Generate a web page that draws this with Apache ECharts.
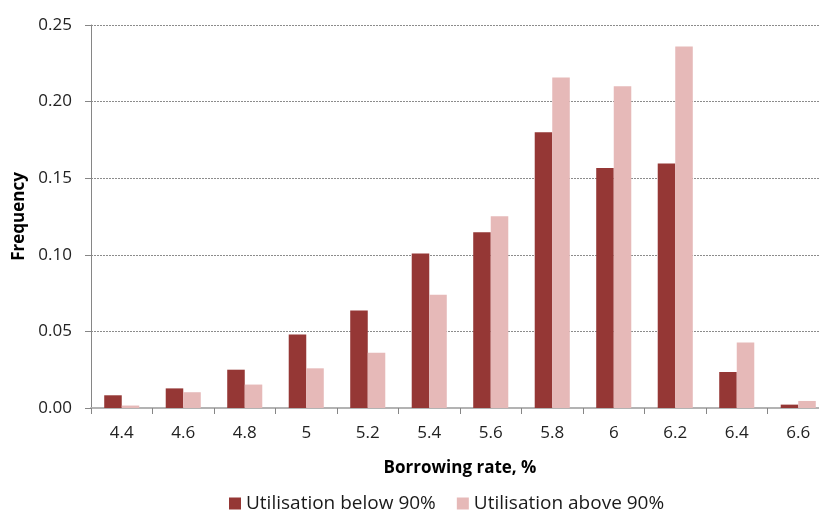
<!DOCTYPE html>
<html>
<head>
<meta charset="utf-8">
<script src="https://cdn.jsdelivr.net/npm/echarts@6/dist/echarts.min.js"></script>
<style>
  html, body { margin: 0; padding: 0; background: #fff; }
  #chart { width: 819px; height: 511px; }
</style>
</head>
<body>
<div id="chart"></div>
<script>
var rates = ['4.4', '4.6', '4.8', '5', '5.2', '5.4', '5.6', '5.8', '6', '6.2', '6.4', '6.6'];
var belowValues = [0.0083, 0.0128, 0.025, 0.048, 0.0637, 0.1009, 0.1148, 0.180, 0.1566, 0.1596, 0.0235, 0.0022];
var aboveValues = [0.0016, 0.0103, 0.0153, 0.0259, 0.0361, 0.074, 0.1251, 0.2157, 0.210, 0.236, 0.0427, 0.0046];
var seriesNames = ['Utilisation below 90%', 'Utilisation above 90%'];

// 初始化图表
var myChart = echarts.init(document.getElementById('chart'));
var font = 'Open Sans, Liberation Sans, sans-serif';

var option = {
    animation: false,
    textStyle: { fontFamily: font },
    grid: { left: 91, width: 738, top: 25, height: 383, outerBoundsMode: 'none', containLabel: false },
    legend: {
        top: 489,
        left: 224,
        itemWidth: 12,
        itemHeight: 12,
        itemGap: 21,
        icon: 'rect',
        textStyle: { fontSize: 19, color: '#1a1a1a', fontFamily: font },
        data: seriesNames
    },
    xAxis: {
        type: 'category',
        data: rates,
        name: 'Borrowing rate, %',
        nameLocation: 'middle',
        nameGap: 52,
        nameTextStyle: { fontSize: 17, fontWeight: 'bold', color: '#000' },
        axisLine: { lineStyle: { color: '#b3b3b3', width: 2 } },
        axisTick: { show: true, length: 6, lineStyle: { color: '#868686' } },
        axisLabel: { fontSize: 17, color: '#222', margin: 17 }
    },
    yAxis: {
        type: 'value',
        min: 0,
        max: 0.25,
        interval: 0.05,
        name: 'Frequency',
        nameLocation: 'middle',
        nameGap: 62,
        nameTextStyle: { fontSize: 17, fontWeight: 'bold', color: '#000' },
        axisLine: { show: true, lineStyle: { color: '#868686' } },
        axisTick: { show: true, length: 6, lineStyle: { color: '#868686' } },
        axisLabel: {
            fontSize: 17, color: '#222', margin: 19,
            formatter: function (v) { return v.toFixed(2); }
        },
        splitLine: { show: true, lineStyle: { color: '#8c8c8c', type: [2, 1], width: 1 } }
    },
    series: [{
        name: seriesNames[0],
        type: 'bar',
        data: belowValues,
        itemStyle: { color: '#953735' },
        barGap: '0%',
        barCategoryGap: '43%'
    }, {
        name: seriesNames[1],
        type: 'bar',
        data: aboveValues,
        itemStyle: { color: '#e6b9b8' },
        barGap: '0%',
        barCategoryGap: '43%'
    }]
};

myChart.setOption(option);
</script>
</body>
</html>
